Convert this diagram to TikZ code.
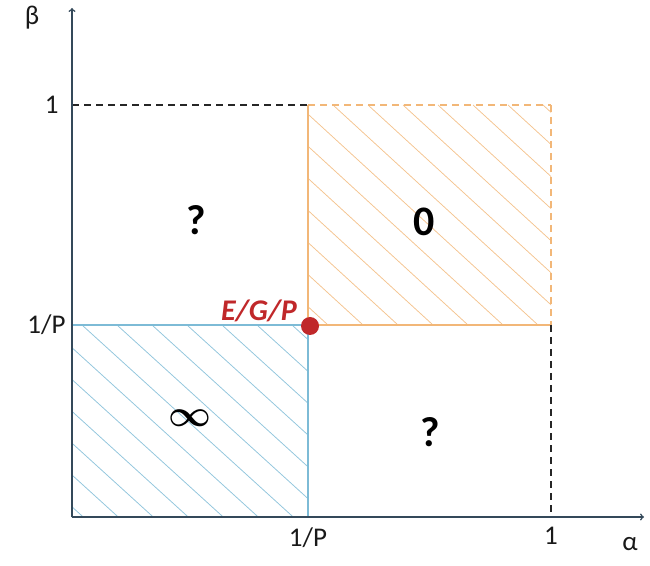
\documentclass[tikz,border=0pt]{standalone}
\usepackage{fontspec}
\setmainfont{Carlito}
\usepackage{amsmath,amssymb}
\usepackage{bm}
\usetikzlibrary{shapes,arrows,positioning,calc}

\definecolor{axiscol}{HTML}{34495A}
\definecolor{orangecol}{HTML}{F2B778}
\definecolor{bluecol}{HTML}{7DBBD6}
\definecolor{dotcol}{HTML}{C0282A}

\tikzset{
  axis/.style={line width=1.5pt, draw=axiscol, -to},
  dashy/.style={dash pattern=on 7pt off 5pt},
  guide/.style={dashy, line width=1.2pt, draw=black!85},
  ticklab/.style={font=\fontsize{27}{30}\selectfont, text=black!90},
  bigsym/.style={font=\bfseries\fontsize{42}{46}\selectfont},
  ohatch/.style={draw=orangecol!85, line width=0.75pt},
  bhatch/.style={draw=bluecol!85, line width=0.75pt},
}

\begin{document}
\begin{tikzpicture}[x=1pt,y=1pt]
\useasboundingbox (0,0) rectangle (650,565);

% key points
\coordinate (O) at (72,48);
\coordinate (xend) at (644,48);
\coordinate (yend) at (72,557);
\coordinate (P) at (308,240);
\coordinate (one) at (551,460);
\coordinate (Py) at (72,240);
\coordinate (Px) at (308,48);
\coordinate (oney) at (72,460);
\coordinate (onex) at (551,48);
\coordinate (cornerO) at (308,460);
\coordinate (cornerB) at (551,240);

% hatching
\begin{scope}
  \clip (P) rectangle (one);
  \foreach \s in {0,...,14}
    \draw[ohatch] (308-220+\s*35,460) -- ++(240,-220);
\end{scope}
\begin{scope}
  \clip (O) rectangle (P);
  \foreach \s in {0,...,13}
    \draw[bhatch] (72-200+\s*35,240) -- ++(220,-200);
\end{scope}

% box edges
\draw[orangecol, line width=1.2pt] (cornerO) -- (P) -- (cornerB);
\draw[orangecol, line width=1.2pt, dashy] (cornerO) -- (one);
\draw[orangecol, line width=1.2pt, dashy] (one) -- (cornerB);
\draw[bluecol, line width=1.2pt] (Py) -- (P) -- (Px);
\draw[bluecol, line width=1.2pt, dashy] (Py) -- (O);
\draw[bluecol, line width=1.2pt, dashy] (O) -- (Px);

% guides
\draw[guide] (oney) -- (cornerO);
\draw[guide] (cornerB) -- (onex);

% axes
\draw[axis] (O) -- (xend);
\draw[axis] (O) -- (yend);

% labels
\node[ticklab] (beta) at (32,547) {β};
\node[ticklab] (alpha) at (630,21) {α};
\node[ticklab, left=10pt of oney] (yone) {1};
\node[ticklab, left=3pt of Py] (yp) {1/P};
\node[ticklab, below=7pt of Px] (xp) {1/P};
\node[ticklab, below=7pt of onex] (xone) {1};

\node[bigsym] (qtl) at (196,345) {?};
\node[bigsym] (zero) at (424,343) {0};
\node[bigsym] (qbr) at (430,133) {?};
\node[font=\Huge] (inf) at (190,147) {\scalebox{1.5}{$\bm{\infty}$}};

\node[circle, fill=dotcol, minimum size=18pt, inner sep=0pt] (egp) at (310,239) {};
\node[text=dotcol, font=\bfseries\itshape\fontsize{30}{33}\selectfont] (egplab) at (259,254) {E/G/P};
\end{tikzpicture}
\end{document}
